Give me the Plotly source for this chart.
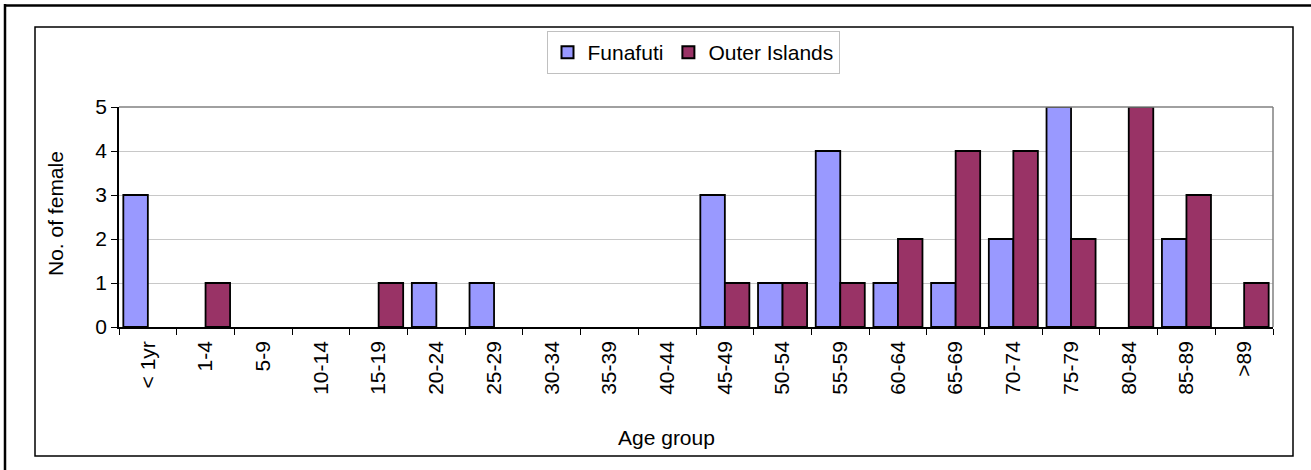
import plotly.graph_objects as go

categories = ["< 1yr", "1-4", "5-9", "10-14", "15-19", "20-24", "25-29", "30-34", "35-39",
              "40-44", "45-49", "50-54", "55-59", "60-64", "65-69", "70-74", "75-79",
              "80-84", "85-89", ">89"]
funafuti = [3, 0, 0, 0, 0, 1, 1, 0, 0, 0, 3, 1, 4, 1, 1, 2, 5, 0, 2, 0]
outer_islands = [0, 1, 0, 0, 1, 0, 0, 0, 0, 0, 1, 1, 1, 2, 4, 4, 2, 5, 3, 1]
y_ticks = [0, 1, 2, 3, 4, 5]

W, H = 1311, 470
PL, PR, PT, PB = 119, 1273, 107, 327  # plot area in pixels
FONT = "Liberation Sans, Arial, sans-serif"
FS = 21


def px(x):
    return (x - PL) / (PR - PL)


def py(y):
    return (PB - y) / (PB - PT)


def nz(vals):
    return [v if v else None for v in vals]


fig = go.Figure()
fig.add_trace(go.Bar(x=categories, y=nz(funafuti), name="Funafuti",
                     marker=dict(color="#9999FF", line=dict(color="black", width=1.8))))
fig.add_trace(go.Bar(x=categories, y=nz(outer_islands), name="Outer Islands",
                     marker=dict(color="#993366", line=dict(color="black", width=1.8))))

shapes = [
    # outer frame (top and left visible)
    dict(type="line", xref="paper", yref="paper", x0=px(4), x1=px(1315), y0=py(5.5), y1=py(5.5),
         line=dict(color="black", width=2.5)),
    dict(type="line", xref="paper", yref="paper", x0=px(5), x1=px(5), y0=py(4), y1=py(475),
         line=dict(color="black", width=2.5)),
    # inner chart frame
    dict(type="rect", xref="paper", yref="paper", x0=px(35), x1=px(1293), y0=py(27), y1=py(456),
         line=dict(color="black", width=1.5), layer="below"),
    # plot area border (top & right gray)
    dict(type="line", xref="paper", yref="paper", x0=0, x1=1, y0=1, y1=1,
         line=dict(color="#808080", width=1.5)),
    dict(type="line", xref="paper", yref="paper", x0=1, x1=1, y0=0, y1=1,
         line=dict(color="#808080", width=1.5)),
]

annotations = [
    dict(text="Age group", xref="paper", yref="paper", x=px(666), y=py(437),
         xanchor="center", yanchor="middle", showarrow=False,
         font=dict(family=FONT, size=FS, color="black")),
    dict(text="No. of female", xref="paper", yref="paper", x=px(55), y=py(214),
         xanchor="center", yanchor="middle", showarrow=False, textangle=-90,
         font=dict(family=FONT, size=FS, color="black")),
]

fig.update_layout(
    width=W, height=H,
    margin=dict(l=PL, r=W - PR, t=PT, b=H - PB, pad=0),
    paper_bgcolor="white", plot_bgcolor="white",
    barmode="group", bargap=0.15, bargroupgap=0,
    font=dict(family=FONT, size=FS, color="black"),
    showlegend=True,
    legend=dict(orientation="h", x=px(693), y=py(31), xanchor="center", yanchor="top",
                bordercolor="#C0C0C0", borderwidth=1, bgcolor="white",
                font=dict(family=FONT, size=FS, color="black"),
                itemsizing="constant", traceorder="normal", itemwidth=30,
                tracegroupgap=0),
    shapes=shapes,
    annotations=annotations,
)

fig.update_xaxes(
    type="category", categoryorder="array", categoryarray=categories,
    tickangle=-90, tickson="boundaries", ticks="outside", ticklen=6, tickcolor="black",
    ticklabelstandoff=4,
    showline=True, linecolor="black", linewidth=1.5, showgrid=False,
    tickfont=dict(family=FONT, size=FS, color="black"),
)
fig.update_yaxes(
    range=[0, 5], tickvals=y_ticks, ticks="outside", ticklen=6, tickcolor="black",
    showline=True, linecolor="black", linewidth=1.5,
    showgrid=True, gridcolor="#C8C8C8", gridwidth=1, zeroline=False,
    tickfont=dict(family=FONT, size=FS, color="black"),
)

fig.write_html(
    "out.html",
    config={"displayModeBar": False},
    post_script="document.body.style.margin='0';document.body.style.overflow='hidden';",
)
